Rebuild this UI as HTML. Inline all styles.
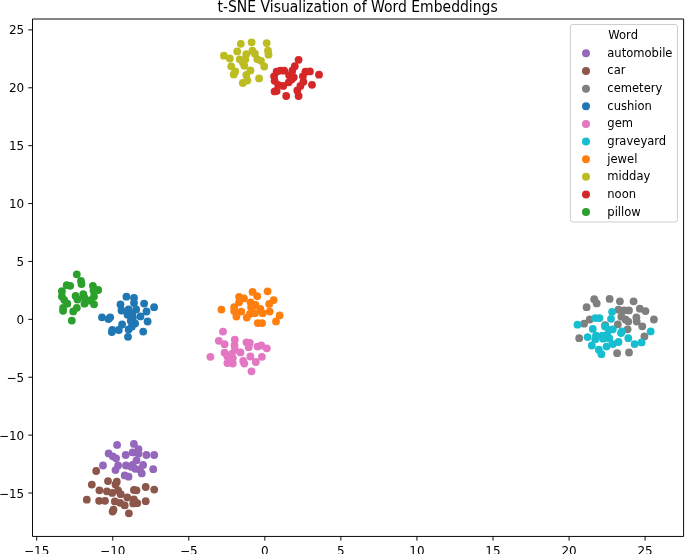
<!DOCTYPE html>
<html><head><meta charset="utf-8"><title>t-SNE Visualization of Word Embeddings</title>
<style>
html,body{margin:0;padding:0;background:#fff;overflow:hidden}
svg{display:block}
text{font-family:"DejaVu Sans","Liberation Sans",sans-serif;fill:#000}
</style></head><body>
<svg width="685" height="554" viewBox="0 0 685 554">
<rect x="0" y="0" width="685" height="554" fill="#fff"/>
<g fill="#9467bd"><circle cx="117.1" cy="444.9" r="3.9"/><circle cx="133.9" cy="443.9" r="3.9"/><circle cx="138.5" cy="449.1" r="3.9"/><circle cx="108.6" cy="453.4" r="3.9"/><circle cx="112.8" cy="456.3" r="3.9"/><circle cx="116.1" cy="458.3" r="3.9"/><circle cx="125.7" cy="455.0" r="3.9"/><circle cx="132.6" cy="452.4" r="3.9"/><circle cx="138.5" cy="453.7" r="3.9"/><circle cx="146.4" cy="455.0" r="3.9"/><circle cx="154.2" cy="455.0" r="3.9"/><circle cx="136.5" cy="460.3" r="3.9"/><circle cx="103.0" cy="465.5" r="3.9"/><circle cx="118.1" cy="465.5" r="3.9"/><circle cx="115.5" cy="470.1" r="3.9"/><circle cx="126.0" cy="465.5" r="3.9"/><circle cx="132.6" cy="464.9" r="3.9"/><circle cx="135.2" cy="468.8" r="3.9"/><circle cx="143.1" cy="464.9" r="3.9"/><circle cx="153.2" cy="469.2" r="3.9"/><circle cx="141.8" cy="473.4" r="3.9"/><circle cx="124.7" cy="475.4" r="3.9"/><circle cx="128.6" cy="476.7" r="3.9"/><circle cx="131.2" cy="466.8" r="3.9"/><circle cx="139.8" cy="469.5" r="3.9"/></g>
<g fill="#8c564b"><circle cx="96.2" cy="471.0" r="3.9"/><circle cx="108.0" cy="481.1" r="3.9"/><circle cx="116.8" cy="481.7" r="3.9"/><circle cx="115.5" cy="484.4" r="3.9"/><circle cx="91.8" cy="484.6" r="3.9"/><circle cx="99.4" cy="490.3" r="3.9"/><circle cx="106.9" cy="491.3" r="3.9"/><circle cx="112.2" cy="492.9" r="3.9"/><circle cx="118.1" cy="490.3" r="3.9"/><circle cx="120.7" cy="494.2" r="3.9"/><circle cx="127.3" cy="497.5" r="3.9"/><circle cx="133.9" cy="490.0" r="3.9"/><circle cx="136.5" cy="490.3" r="3.9"/><circle cx="145.7" cy="487.0" r="3.9"/><circle cx="154.2" cy="489.6" r="3.9"/><circle cx="86.8" cy="499.7" r="3.9"/><circle cx="99.1" cy="500.8" r="3.9"/><circle cx="105.0" cy="500.8" r="3.9"/><circle cx="114.8" cy="501.4" r="3.9"/><circle cx="120.1" cy="502.8" r="3.9"/><circle cx="124.7" cy="505.4" r="3.9"/><circle cx="133.9" cy="499.5" r="3.9"/><circle cx="133.2" cy="503.4" r="3.9"/><circle cx="137.2" cy="503.2" r="3.9"/><circle cx="145.7" cy="501.2" r="3.9"/><circle cx="113.5" cy="509.7" r="3.9"/><circle cx="112.6" cy="511.6" r="3.9"/><circle cx="128.9" cy="513.3" r="3.9"/></g>
<g fill="#7f7f7f"><circle cx="594.2" cy="299.2" r="3.9"/><circle cx="596.7" cy="303.4" r="3.9"/><circle cx="586.6" cy="307.2" r="3.9"/><circle cx="609.6" cy="298.9" r="3.9"/><circle cx="619.9" cy="301.3" r="3.9"/><circle cx="633.6" cy="301.3" r="3.9"/><circle cx="618.5" cy="309.7" r="3.9"/><circle cx="624.1" cy="310.4" r="3.9"/><circle cx="629.0" cy="310.4" r="3.9"/><circle cx="639.8" cy="308.7" r="3.9"/><circle cx="645.5" cy="311.1" r="3.9"/><circle cx="621.3" cy="316.7" r="3.9"/><circle cx="625.5" cy="319.5" r="3.9"/><circle cx="628.3" cy="321.6" r="3.9"/><circle cx="636.4" cy="317.4" r="3.9"/><circle cx="636.7" cy="321.6" r="3.9"/><circle cx="653.9" cy="319.5" r="3.9"/><circle cx="589.7" cy="319.5" r="3.9"/><circle cx="584.1" cy="323.7" r="3.9"/><circle cx="617.8" cy="324.4" r="3.9"/><circle cx="627.6" cy="329.3" r="3.9"/><circle cx="642.3" cy="326.3" r="3.9"/><circle cx="644.4" cy="336.4" r="3.9"/><circle cx="579.2" cy="338.2" r="3.9"/><circle cx="617.1" cy="353.2" r="3.9"/><circle cx="629.0" cy="352.5" r="3.9"/><circle cx="605.1" cy="325.1" r="3.9"/></g>
<g fill="#1f77b4"><circle cx="126.4" cy="296.7" r="3.9"/><circle cx="134.0" cy="297.8" r="3.9"/><circle cx="134.0" cy="302.9" r="3.9"/><circle cx="120.5" cy="304.5" r="3.9"/><circle cx="144.1" cy="303.6" r="3.9"/><circle cx="154.1" cy="307.2" r="3.9"/><circle cx="121.5" cy="310.5" r="3.9"/><circle cx="128.6" cy="309.4" r="3.9"/><circle cx="136.2" cy="309.4" r="3.9"/><circle cx="146.5" cy="311.5" r="3.9"/><circle cx="127.5" cy="314.8" r="3.9"/><circle cx="132.4" cy="313.7" r="3.9"/><circle cx="140.5" cy="316.4" r="3.9"/><circle cx="102.0" cy="317.3" r="3.9"/><circle cx="110.2" cy="317.3" r="3.9"/><circle cx="108.5" cy="319.1" r="3.9"/><circle cx="130.8" cy="320.8" r="3.9"/><circle cx="135.1" cy="323.5" r="3.9"/><circle cx="147.6" cy="321.5" r="3.9"/><circle cx="122.1" cy="324.5" r="3.9"/><circle cx="112.3" cy="330.0" r="3.9"/><circle cx="111.8" cy="332.1" r="3.9"/><circle cx="118.8" cy="330.0" r="3.9"/><circle cx="128.6" cy="329.4" r="3.9"/><circle cx="143.2" cy="331.6" r="3.9"/><circle cx="128.0" cy="336.8" r="3.9"/><circle cx="131.8" cy="326.7" r="3.9"/><circle cx="132.9" cy="317.5" r="3.9"/></g>
<g fill="#e377c2"><circle cx="223.0" cy="331.6" r="3.9"/><circle cx="218.8" cy="340.8" r="3.9"/><circle cx="224.6" cy="344.2" r="3.9"/><circle cx="234.8" cy="339.7" r="3.9"/><circle cx="234.5" cy="345.5" r="3.9"/><circle cx="246.5" cy="342.3" r="3.9"/><circle cx="249.8" cy="342.8" r="3.9"/><circle cx="248.7" cy="347.2" r="3.9"/><circle cx="257.5" cy="346.6" r="3.9"/><circle cx="261.3" cy="345.5" r="3.9"/><circle cx="266.8" cy="348.3" r="3.9"/><circle cx="210.4" cy="356.8" r="3.9"/><circle cx="224.6" cy="352.7" r="3.9"/><circle cx="227.4" cy="356.5" r="3.9"/><circle cx="231.8" cy="353.8" r="3.9"/><circle cx="232.8" cy="358.1" r="3.9"/><circle cx="240.5" cy="352.4" r="3.9"/><circle cx="227.4" cy="363.1" r="3.9"/><circle cx="232.8" cy="363.6" r="3.9"/><circle cx="243.2" cy="360.9" r="3.9"/><circle cx="244.3" cy="363.6" r="3.9"/><circle cx="250.4" cy="356.5" r="3.9"/><circle cx="255.8" cy="362.0" r="3.9"/><circle cx="261.9" cy="356.8" r="3.9"/><circle cx="251.5" cy="371.3" r="3.9"/><circle cx="235.0" cy="349.9" r="3.9"/></g>
<g fill="#17becf"><circle cx="612.1" cy="311.8" r="3.9"/><circle cx="611.0" cy="318.8" r="3.9"/><circle cx="595.3" cy="318.1" r="3.9"/><circle cx="599.5" cy="318.1" r="3.9"/><circle cx="577.5" cy="324.7" r="3.9"/><circle cx="592.8" cy="328.9" r="3.9"/><circle cx="605.1" cy="326.5" r="3.9"/><circle cx="612.8" cy="329.3" r="3.9"/><circle cx="622.0" cy="331.4" r="3.9"/><circle cx="650.7" cy="331.4" r="3.9"/><circle cx="587.6" cy="337.1" r="3.9"/><circle cx="596.0" cy="335.7" r="3.9"/><circle cx="595.3" cy="339.2" r="3.9"/><circle cx="602.3" cy="335.7" r="3.9"/><circle cx="607.2" cy="335.0" r="3.9"/><circle cx="609.3" cy="338.5" r="3.9"/><circle cx="628.3" cy="338.2" r="3.9"/><circle cx="618.5" cy="342.0" r="3.9"/><circle cx="612.8" cy="344.1" r="3.9"/><circle cx="606.5" cy="346.6" r="3.9"/><circle cx="591.8" cy="345.5" r="3.9"/><circle cx="598.8" cy="349.7" r="3.9"/><circle cx="601.4" cy="354.2" r="3.9"/><circle cx="634.6" cy="344.1" r="3.9"/><circle cx="641.6" cy="342.4" r="3.9"/><circle cx="608.9" cy="330.0" r="3.9"/><circle cx="621.0" cy="333.1" r="3.9"/><circle cx="603.0" cy="338.7" r="3.9"/></g>
<g fill="#ff7f0e"><circle cx="252.6" cy="291.9" r="3.9"/><circle cx="257.2" cy="296.2" r="3.9"/><circle cx="267.6" cy="291.3" r="3.9"/><circle cx="239.1" cy="296.8" r="3.9"/><circle cx="244.0" cy="298.4" r="3.9"/><circle cx="273.6" cy="300.1" r="3.9"/><circle cx="269.2" cy="303.9" r="3.9"/><circle cx="221.4" cy="309.6" r="3.9"/><circle cx="234.2" cy="307.2" r="3.9"/><circle cx="239.1" cy="302.3" r="3.9"/><circle cx="250.6" cy="302.3" r="3.9"/><circle cx="255.5" cy="305.0" r="3.9"/><circle cx="251.1" cy="307.2" r="3.9"/><circle cx="234.2" cy="311.0" r="3.9"/><circle cx="241.3" cy="311.6" r="3.9"/><circle cx="236.4" cy="316.5" r="3.9"/><circle cx="246.8" cy="317.6" r="3.9"/><circle cx="250.0" cy="313.8" r="3.9"/><circle cx="255.0" cy="313.2" r="3.9"/><circle cx="260.4" cy="308.8" r="3.9"/><circle cx="262.6" cy="313.2" r="3.9"/><circle cx="269.7" cy="311.6" r="3.9"/><circle cx="279.6" cy="315.4" r="3.9"/><circle cx="276.0" cy="321.4" r="3.9"/><circle cx="257.7" cy="323.1" r="3.9"/><circle cx="262.1" cy="323.1" r="3.9"/></g>
<g fill="#bcbd22"><circle cx="240.8" cy="43.8" r="3.9"/><circle cx="251.6" cy="42.3" r="3.9"/><circle cx="266.7" cy="43.1" r="3.9"/><circle cx="237.2" cy="51.4" r="3.9"/><circle cx="223.9" cy="55.7" r="3.9"/><circle cx="229.8" cy="58.5" r="3.9"/><circle cx="246.3" cy="54.2" r="3.9"/><circle cx="252.4" cy="50.7" r="3.9"/><circle cx="254.9" cy="53.7" r="3.9"/><circle cx="268.0" cy="50.7" r="3.9"/><circle cx="268.5" cy="54.7" r="3.9"/><circle cx="239.7" cy="59.3" r="3.9"/><circle cx="242.8" cy="62.3" r="3.9"/><circle cx="244.3" cy="65.8" r="3.9"/><circle cx="231.2" cy="66.3" r="3.9"/><circle cx="235.2" cy="71.4" r="3.9"/><circle cx="233.7" cy="74.4" r="3.9"/><circle cx="250.4" cy="70.4" r="3.9"/><circle cx="246.3" cy="74.9" r="3.9"/><circle cx="247.3" cy="80.5" r="3.9"/><circle cx="242.8" cy="83.0" r="3.9"/><circle cx="259.1" cy="78.4" r="3.9"/><circle cx="257.4" cy="59.3" r="3.9"/><circle cx="261.0" cy="60.8" r="3.9"/><circle cx="264.2" cy="66.5" r="3.9"/><circle cx="245.3" cy="59.5" r="3.9"/></g>
<g fill="#d62728"><circle cx="298.6" cy="59.8" r="3.9"/><circle cx="294.8" cy="66.2" r="3.9"/><circle cx="292.3" cy="70.7" r="3.9"/><circle cx="276.6" cy="71.7" r="3.9"/><circle cx="284.2" cy="70.7" r="3.9"/><circle cx="274.1" cy="76.3" r="3.9"/><circle cx="274.6" cy="80.8" r="3.9"/><circle cx="278.1" cy="84.8" r="3.9"/><circle cx="283.2" cy="85.9" r="3.9"/><circle cx="288.7" cy="82.3" r="3.9"/><circle cx="293.8" cy="77.3" r="3.9"/><circle cx="289.2" cy="75.3" r="3.9"/><circle cx="274.6" cy="91.4" r="3.9"/><circle cx="276.6" cy="90.9" r="3.9"/><circle cx="286.2" cy="96.0" r="3.9"/><circle cx="298.6" cy="96.0" r="3.9"/><circle cx="297.3" cy="90.4" r="3.9"/><circle cx="300.4" cy="85.9" r="3.9"/><circle cx="303.4" cy="81.8" r="3.9"/><circle cx="302.9" cy="76.3" r="3.9"/><circle cx="305.4" cy="71.7" r="3.9"/><circle cx="309.9" cy="71.4" r="3.9"/><circle cx="319.0" cy="74.7" r="3.9"/><circle cx="312.0" cy="84.8" r="3.9"/><circle cx="291.8" cy="79.3" r="3.9"/><circle cx="280.4" cy="70.6" r="3.9"/></g>
<g fill="#2ca02c"><circle cx="76.8" cy="274.3" r="3.9"/><circle cx="81.0" cy="281.0" r="3.9"/><circle cx="81.5" cy="284.0" r="3.9"/><circle cx="66.7" cy="285.2" r="3.9"/><circle cx="70.2" cy="285.8" r="3.9"/><circle cx="61.9" cy="291.2" r="3.9"/><circle cx="61.9" cy="296.5" r="3.9"/><circle cx="64.3" cy="300.1" r="3.9"/><circle cx="67.3" cy="303.7" r="3.9"/><circle cx="63.1" cy="307.8" r="3.9"/><circle cx="63.1" cy="310.8" r="3.9"/><circle cx="76.8" cy="307.8" r="3.9"/><circle cx="73.2" cy="311.4" r="3.9"/><circle cx="71.8" cy="320.6" r="3.9"/><circle cx="75.6" cy="295.9" r="3.9"/><circle cx="77.4" cy="299.5" r="3.9"/><circle cx="83.3" cy="294.1" r="3.9"/><circle cx="84.5" cy="297.7" r="3.9"/><circle cx="84.5" cy="303.7" r="3.9"/><circle cx="92.9" cy="285.8" r="3.9"/><circle cx="98.2" cy="290.0" r="3.9"/><circle cx="93.5" cy="290.6" r="3.9"/><circle cx="94.0" cy="296.5" r="3.9"/><circle cx="91.1" cy="300.1" r="3.9"/><circle cx="94.0" cy="304.3" r="3.9"/><circle cx="87.9" cy="300.7" r="3.9"/></g>
<g stroke="#000" stroke-width="0.96" fill="none"><path d="M32.5 536.45V19.0"/><path d="M683.6 536.45V19.0"/><path d="M32.5 536.45H683.6"/><path d="M32.5 19.0H683.6"/><path d="M36.70 536.45v4.2"/><path d="M112.75 536.45v4.2"/><path d="M188.80 536.45v4.2"/><path d="M264.85 536.45v4.2"/><path d="M340.90 536.45v4.2"/><path d="M416.95 536.45v4.2"/><path d="M493.00 536.45v4.2"/><path d="M569.05 536.45v4.2"/><path d="M645.10 536.45v4.2"/><path d="M32.5 493.00h-4.2"/><path d="M32.5 435.11h-4.2"/><path d="M32.5 377.23h-4.2"/><path d="M32.5 319.34h-4.2"/><path d="M32.5 261.45h-4.2"/><path d="M32.5 203.56h-4.2"/><path d="M32.5 145.68h-4.2"/><path d="M32.5 87.79h-4.2"/><path d="M32.5 29.90h-4.2"/></g>
<g font-size="12px"><text x="36.70" y="554.5" text-anchor="middle">−15</text><text x="112.75" y="554.5" text-anchor="middle">−10</text><text x="188.80" y="554.5" text-anchor="middle">−5</text><text x="264.85" y="554.5" text-anchor="middle">0</text><text x="340.90" y="554.5" text-anchor="middle">5</text><text x="416.95" y="554.5" text-anchor="middle">10</text><text x="493.00" y="554.5" text-anchor="middle">15</text><text x="569.05" y="554.5" text-anchor="middle">20</text><text x="645.10" y="554.5" text-anchor="middle">25</text><text x="24.2" y="497.50" text-anchor="end">−15</text><text x="24.2" y="439.61" text-anchor="end">−10</text><text x="24.2" y="381.73" text-anchor="end">−5</text><text x="24.2" y="323.84" text-anchor="end">0</text><text x="24.2" y="265.95" text-anchor="end">5</text><text x="24.2" y="208.06" text-anchor="end">10</text><text x="24.2" y="150.18" text-anchor="end">15</text><text x="24.2" y="92.29" text-anchor="end">20</text><text x="24.2" y="34.40" text-anchor="end">25</text></g>
<text transform="translate(357.6 11.8) scale(1 1.07)" x="0" y="0" font-size="14px" text-anchor="middle" textLength="280.2" lengthAdjust="spacingAndGlyphs">t-SNE Visualization of Word Embeddings</text>
<rect x="570.4" y="24.5" width="107.1" height="197.5" rx="2.4" ry="2.4" fill="#fff" fill-opacity="0.8" stroke="#ccc" stroke-width="0.96"/>
<g font-size="12px"><text x="608.3" y="38.5" font-size="11.55px">Word</text><circle cx="586" cy="53.35" r="4" fill="#9467bd"/><text x="607.3" y="56.80" font-size="11.55px">automobile</text><circle cx="586" cy="70.99" r="4" fill="#8c564b"/><text x="607.3" y="74.44" font-size="11.55px">car</text><circle cx="586" cy="88.63" r="4" fill="#7f7f7f"/><text x="607.3" y="92.08" font-size="11.55px">cemetery</text><circle cx="586" cy="106.27" r="4" fill="#1f77b4"/><text x="607.3" y="109.72" font-size="11.55px">cushion</text><circle cx="586" cy="123.91" r="4" fill="#e377c2"/><text x="607.3" y="127.36" font-size="11.55px">gem</text><circle cx="586" cy="141.55" r="4" fill="#17becf"/><text x="607.3" y="145.00" font-size="11.55px">graveyard</text><circle cx="586" cy="159.19" r="4" fill="#ff7f0e"/><text x="607.3" y="162.64" font-size="11.55px">jewel</text><circle cx="586" cy="176.83" r="4" fill="#bcbd22"/><text x="607.3" y="180.28" font-size="11.55px">midday</text><circle cx="586" cy="194.47" r="4" fill="#d62728"/><text x="607.3" y="197.92" font-size="11.55px">noon</text><circle cx="586" cy="212.11" r="4" fill="#2ca02c"/><text x="607.3" y="215.56" font-size="11.55px">pillow</text></g>
</svg>
</body></html>
